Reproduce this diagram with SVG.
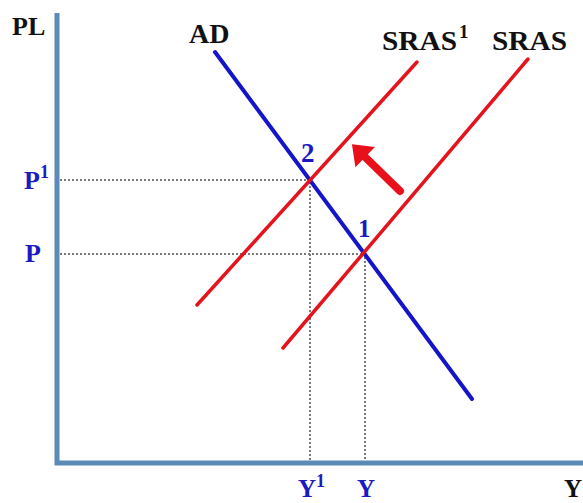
<svg xmlns="http://www.w3.org/2000/svg" width="583" height="503" viewBox="0 0 583 503">
<style>
.lbl{font-family:"Liberation Serif","DejaVu Serif",serif;font-weight:bold;}
.blk{fill:#111;}
.blu{fill:#1a1ac0;}
.dot{stroke:#7a7a7a;stroke-width:2;stroke-dasharray:2 2;fill:none;}
.ad{stroke:#1414c8;stroke-width:4;stroke-linecap:round;fill:none;}
.sras{stroke:#e4141c;stroke-width:3.5;stroke-linecap:round;fill:none;}
.axis{stroke:#5b8cb8;stroke-width:5;fill:none;}
</style>
<defs>
<marker id="ah" markerWidth="3" markerHeight="4" refX="0.2" refY="1.75" orient="auto" markerUnits="strokeWidth" overflow="visible">
<path d="M0,0 L2.3,1.75 L0,3.5 Z" fill="#e8101a"/>
</marker>
</defs>
<rect width="583" height="503" fill="#fff"/>
<g id="axes">
<path class="axis" d="M57,13 V463 H583"/>
</g>
<g id="connectors">
<path class="dot" d="M60,180 H310 V461"/>
<path class="dot" d="M60,254 H365 V461"/>
</g>
<g id="ad">
<line class="ad" x1="215" y1="52" x2="472" y2="399"/>
<text class="lbl blk" x="189" y="43" font-size="28">AD</text>
</g>
<g id="sras1">
<line class="sras" x1="197" y1="305" x2="417" y2="62"/>
<text class="lbl blk" x="382" y="50" font-size="27" textLength="75" lengthAdjust="spacingAndGlyphs">SRAS</text>
<text class="lbl blk" x="459" y="38" font-size="19">1</text>
</g>
<g id="sras">
<line class="sras" x1="283" y1="348" x2="528" y2="59"/>
<text class="lbl blk" x="492" y="50" font-size="27" textLength="75" lengthAdjust="spacingAndGlyphs">SRAS</text>
</g>
<g id="shift-arrow">
<line x1="400" y1="191" x2="364" y2="156" stroke="#e8101a" stroke-width="8" stroke-linecap="round" marker-end="url(#ah)"/>
</g>
<g id="point2">
<text class="lbl blu" x="301" y="162" font-size="27">2</text>
</g>
<g id="point1">
<text class="lbl blu" x="358" y="237" font-size="25">1</text>
</g>
<g id="yaxis-labels">
<text class="lbl blk" x="12" y="35" font-size="26">PL</text>
<text class="lbl blu" x="24" y="189" font-size="26">P<tspan font-size="18" dy="-11">1</tspan></text>
<text class="lbl blu" x="25" y="262" font-size="26">P</text>
</g>
<g id="xaxis-labels">
<text class="lbl blu" x="298" y="497" font-size="25">Y<tspan font-size="18" dy="-10">1</tspan></text>
<text class="lbl blu" x="357" y="497" font-size="25">Y</text>
<text class="lbl blk" x="564" y="497" font-size="25">Y</text>
</g>
</svg>
